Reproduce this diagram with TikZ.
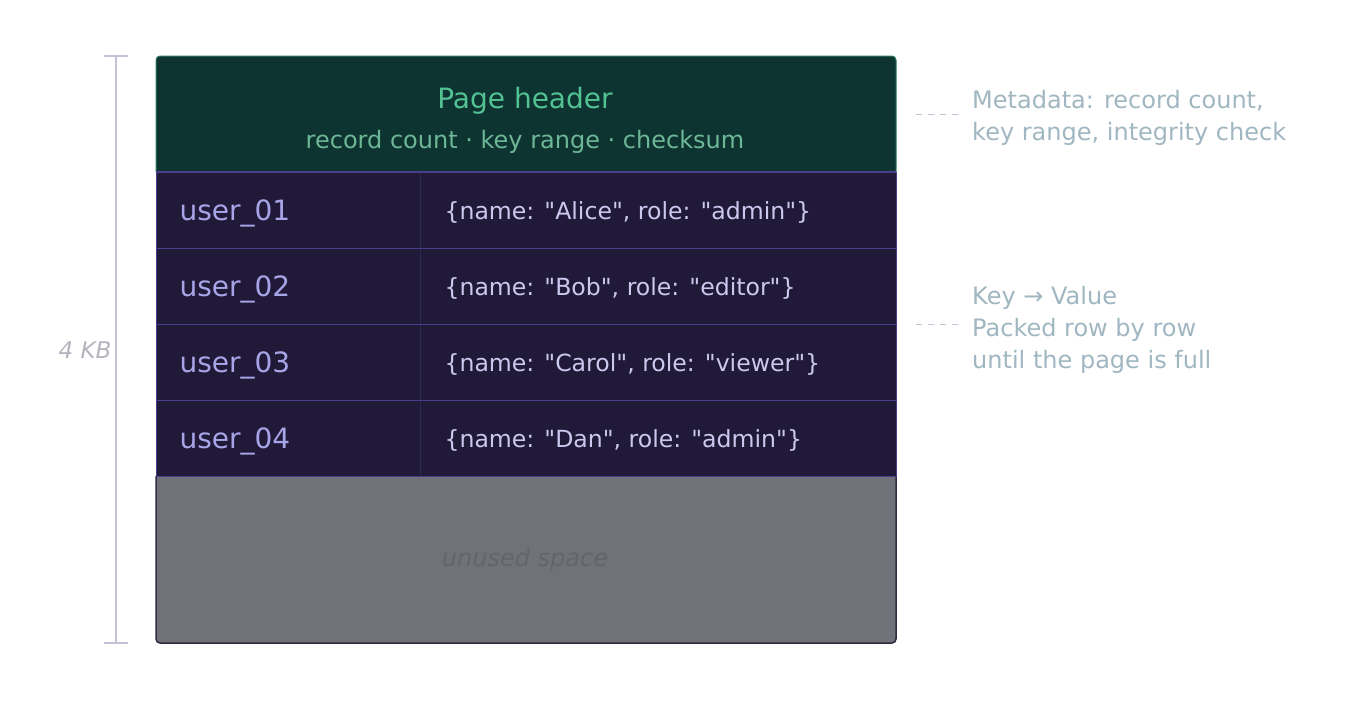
\documentclass[tikz,border=0pt]{standalone}
\usepackage{fontspec}
\setmainfont{DejaVu Sans}
\newfontfamily\djv{DejaVu Sans}
\usetikzlibrary{calc}
\definecolor{hdrfill}{HTML}{0E3431}
\definecolor{hdrdraw}{HTML}{2F7A5E}
\definecolor{hdrtitle}{HTML}{52C293}
\definecolor{hdrsub}{HTML}{6DB796}
\definecolor{rowfill}{HTML}{201A38}
\definecolor{rowline}{HTML}{4A3F8F}
\definecolor{divline}{HTML}{2F2A50}
\definecolor{keycol}{HTML}{A8A4E8}
\definecolor{valcol}{HTML}{CBC8EE}
\definecolor{unfill}{HTML}{71717A}
\definecolor{undraw}{HTML}{2E2A40}
\definecolor{untext}{HTML}{64646D}
\definecolor{brk}{HTML}{C4C1D4}
\definecolor{kbtext}{HTML}{B4B4BE}
\definecolor{anno}{HTML}{A0B6C0}
\tikzset{
  keytext/.style={anchor=west, text=keycol, font=\djv\fontsize{28}{28}\selectfont},
  valtext/.style={anchor=west, text=valcol, font=\djv\fontsize{23.6}{23.6}\selectfont},
  annotext/.style={anchor=base west, text=anno, font=\djv\fontsize{24}{24}\selectfont, inner sep=0pt},
  leader/.style={draw=brk, dash pattern=on 6pt off 6pt, line width=1pt},
}
\begin{document}
\begin{tikzpicture}[x=1pt,y=-1pt]
\useasboundingbox (0,0) rectangle (1360,720);
% unused region and rows
\fill[unfill, rounded corners=4pt] (156,470) rectangle (896,643);
\draw[undraw, line width=1.5pt, rounded corners=4pt] (156,476) -- (156,643) -- (896,643) -- (896,476);
\fill[rowfill] (156,172) rectangle (896,476);
\draw[divline, line width=1pt] (420,172) -- (420,476);
\draw[rowline, line width=1pt] (156,172) rectangle (896,476);
\foreach \yy in {248,324,400} \draw[rowline, line width=1pt] (156,\yy) -- (896,\yy);
% header
\fill[hdrfill, rounded corners=4pt] (156,56) rectangle (896,172);
\fill[hdrfill] (156,150) rectangle (896,172);
\draw[hdrdraw, line width=1pt, rounded corners=4pt] (156,172) -- (156,56) -- (896,56) -- (896,172);
\draw[rowline, line width=1.2pt] (156,172) -- (896,172);
\node[text=hdrtitle, font=\djv\fontsize{28}{28}\selectfont] (hdr) at (525,101) {Page header};
\node[text=hdrsub, font=\djv\fontsize{24}{24}\selectfont] (hdrsub) at (525,142) {record count · key range · checksum};
% rows
\node[keytext] (k1) at (176,213) {user\_01};
\node[keytext] (k2) at (176,289) {user\_02};
\node[keytext] (k3) at (176,365) {user\_03};
\node[keytext] (k4) at (176,441) {user\_04};
\node[valtext] (v1) at (441,212) {\{name: "Alice", role: "admin"\}};
\node[valtext] (v2) at (441,288) {\{name: "Bob", role: "editor"\}};
\node[valtext] (v3) at (441,364) {\{name: "Carol", role: "viewer"\}};
\node[valtext] (v4) at (441,440) {\{name: "Dan", role: "admin"\}};
\node[text=untext, font=\djv\fontsize{24}{24}\itshape] (un) at (525,560) {unused space};
% size bracket
\draw[brk, line width=1.2pt] (104,56) -- (128,56) (116,56) -- (116,643) (104,643) -- (128,643);
\node[text=kbtext, font=\djv\fontsize{23}{23}\itshape] (kb) at (85,350) {4 KB};
% annotations
\coordinate (l1a) at (916,114); \coordinate (l1b) at (958,114);
\coordinate (l2a) at (916,324); \coordinate (l2b) at (958,324);
\draw[leader] (l1a) -- (l1b);
\draw[leader] (l2a) -- (l2b);
\node[annotext] (a1) at (972,108) {Metadata: record count,};
\node[annotext] (a1b) at (972,140) {key range, integrity check};
\node[annotext] (a2) at (972,304) {Key → Value};
\node[annotext] (a2b) at (972,336) {Packed row by row};
\node[annotext] (a2c) at (972,368) {until the page is full};
\end{tikzpicture}
\end{document}
